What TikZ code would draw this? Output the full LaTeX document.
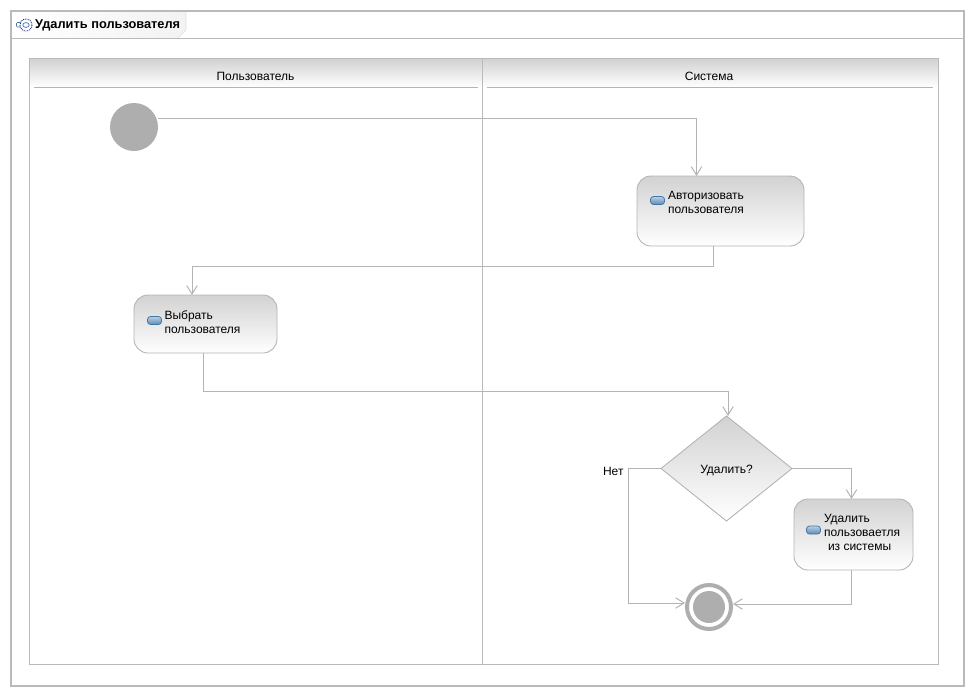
\documentclass[tikz,border=0pt]{standalone}
\usepackage{fontspec}
\setmainfont{Liberation Sans}
\usetikzlibrary{arrows.meta,shapes.geometric,calc}
\definecolor{linegray}{HTML}{B4B4B4}
\definecolor{framegray}{HTML}{BABABA}
\definecolor{headgray}{HTML}{D2D2D2}
\definecolor{markgray}{HTML}{AEAEAE}
\definecolor{pillblue}{HTML}{3F77A8}
\tikzset{
  flow/.style={draw=linegray,line width=1pt,-{Straight Barb[length=8.5pt,width=10.5pt,line width=1pt]}},
  action/.style={draw=linegray,line width=0.9pt,rounded corners=14pt,top color=headgray,bottom color=white,inner sep=0pt,outer sep=0pt},
  decision/.style={diamond,draw=linegray,line width=0.9pt,top color=headgray,bottom color=white,inner sep=0pt,outer sep=0pt,minimum width=131pt,minimum height=105pt,aspect=1.25},
  lbl/.style={font=\fontsize{12}{14.2}\selectfont,inner sep=0pt,outer sep=0pt,text=black},
  pill/.style={draw=pillblue,line width=0.8pt,rounded corners=3pt,top color=pillblue!35,bottom color=pillblue!85,minimum width=14pt,minimum height=8pt,inner sep=0pt},
  startmark/.style={circle,fill=markgray,minimum size=48pt,inner sep=0pt,outer sep=0pt},
  endmark/.style={circle,draw=markgray,line width=4pt,fill=white,minimum size=44pt,inner sep=0pt,outer sep=2pt},
}
\begin{document}
\begin{tikzpicture}[x=1pt,y=-1pt]
\useasboundingbox (0,0) rectangle (975,697);
% outer frame
\draw[framegray,line width=2pt] (11,11) rectangle (964,686);
% title tab
\path[left color=white,right color=black!5] (12,12) -- (186,12) -- (186,30) -- (178,38) -- (12,38) -- cycle;
\draw[black!12,line width=0.6pt] (186,12) -- (186,30) -- (178,38);
\draw[framegray,line width=1pt] (11,38.5) -- (964,38.5);
% title icon
\draw[pillblue,line width=0.7pt,rounded corners=1pt,fill=white] (16.5,22.5) rectangle (22.5,27);
\draw[blue!55!black,line width=0.8pt,densely dotted,fill=white] (26,25) circle (6);
\draw[pillblue,line width=0.7pt,fill=white] (26,25) ellipse (3.2 and 2.4);
\node[anchor=west,inner sep=0pt,font=\fontsize{12.8}{14}\bfseries\selectfont] (title) at (35,25.5) {Удалить пользователя};
% swimlanes
\path[top color=headgray,bottom color=white] (30,59) rectangle (938,87);
\draw[framegray,line width=1pt] (29.5,58.5) rectangle (938.5,664.5);
\draw[framegray,line width=1pt] (482.5,58.5) -- (482.5,664.5);
\draw[linegray,line width=0.9pt] (34,87.5) -- (478,87.5);
\draw[linegray,line width=0.9pt] (487,87.5) -- (933,87.5);
\node[lbl] (lane1) at (255.5,76) {Пользователь};
\node[lbl] (lane2) at (709,76) {Система};
% nodes
\node[startmark] (start) at (134,127) {};
\node[action,minimum width=167pt,minimum height=70pt] (auth) at (720.5,211) {};
\node[pill] (authicon) at (657.5,200.5) {};
\node[lbl,anchor=west,align=left] (authtext) at (668,202.5) {Авторизовать\\пользователя};
\node[action,minimum width=143pt,minimum height=58pt] (select) at (205.5,324) {};
\node[pill] (selecticon) at (154.5,320.5) {};
\node[lbl,anchor=west,align=left] (selecttext) at (164.5,322.5) {Выбрать\\пользователя};
\node[decision] (dec) at (726.5,468.5) {};
\node[lbl] (dectext) at (726.5,470) {Удалить?};
\node[action,minimum width=119pt,minimum height=71pt] (del) at (853.5,534.5) {};
\node[pill] (delicon) at (813.5,530) {};
\node[lbl,anchor=west,align=left] (deltext) at (824,532.5) {Удалить\\пользоваетля\\\hspace*{4pt}из системы};
\node[endmark] (end) at (709,607) {};
\fill[markgray] (end.center) circle (16);
\node[lbl,anchor=east] (no) at (623.5,471.5) {Нет};
% connectors
\draw[flow] ([yshift=9pt]start.east) -| ([xshift=-24pt]auth.north);
\draw[flow] ([xshift=-7pt]auth.south) |- ++(0,20) -| ([xshift=-13.5pt]select.north);
\draw[flow] ([xshift=-2pt]select.south) -- ++(0,38) -| ([xshift=1.5pt]dec.north);
\draw[flow] (dec.west) -- ++(-33,0) |- ([yshift=4pt]end.west);
\draw[flow] (dec.east) -| ([xshift=-2pt]del.north);
\draw[flow] ([xshift=-2pt]del.south) |- ([yshift=3pt]end.east);
\end{tikzpicture}
\end{document}
